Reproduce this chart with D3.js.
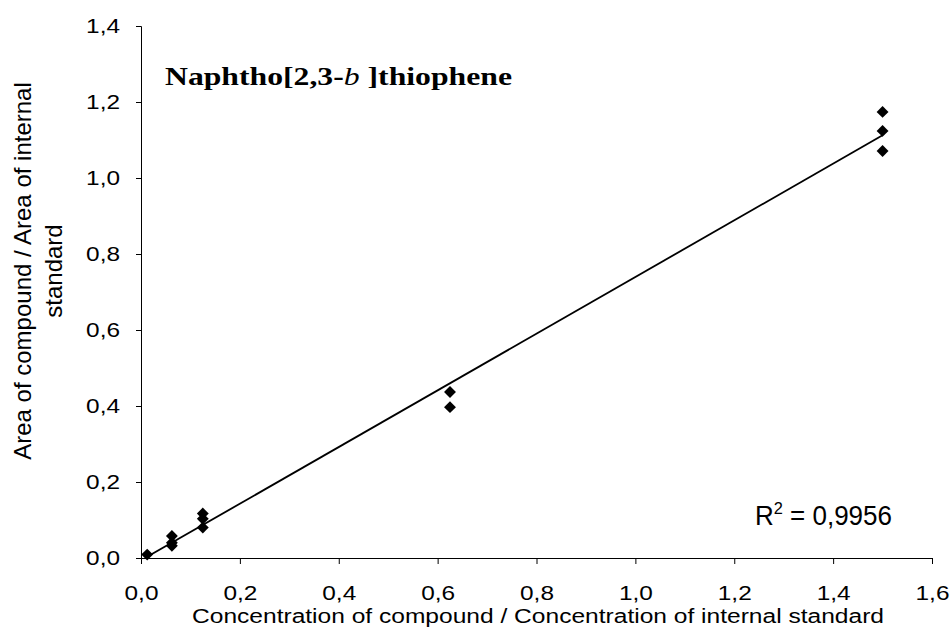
<!DOCTYPE html>
<html>
<head>
<meta charset="utf-8">
<title>Naphtho[2,3-b]thiophene calibration</title>
<style>
body { margin: 0; background: #fff; }
.axis text { font-family: "Liberation Sans", Arial, sans-serif; font-size: 20px; fill: #000; }
.axis path, .axis line { stroke: #000; stroke-width: 1px; }
</style>
</head>
<body>
<script src="https://d3js.org/d3.v7.min.js"></script>
<script>

// Data
var concRatio = [0.0125, 0.0625, 0.0625, 0.0625, 0.125, 0.125, 0.125, 0.625, 0.625, 1.5, 1.5, 1.5];
var areaRatio = [0.009, 0.058, 0.040, 0.032, 0.117, 0.103, 0.080, 0.437, 0.397, 1.174, 1.124, 1.071];
var xTicks = [0, 0.2, 0.4, 0.6, 0.8, 1.0, 1.2, 1.4, 1.6];
var yTicks = [0, 0.2, 0.4, 0.6, 0.8, 1.0, 1.2, 1.4];
var rSquared = "0,9956";

var width = 951, height = 630;
var fmt = function(v) { return d3.format(".1f")(v).replace(".", ","); };

// the original text is drawn wider than the font, stretch it
function stretch(sel, factor) {
    sel.each(function() {
        var w = this.getComputedTextLength();
        d3.select(this).attr("textLength", w * factor).attr("lengthAdjust", "spacingAndGlyphs");
    });
}

var x = d3.scaleLinear().domain([0, 1.6]).range([141, 932]);
var y = d3.scaleLinear().domain([0, 1.4]).range([558, 26]);

var svg = d3.select("body").append("svg")
    .attr("width", width)
    .attr("height", height);

var xAxis = svg.append("g")
    .attr("class", "axis axis--x")
    .attr("transform", "translate(0," + y(0) + ")")
    .call(d3.axisBottom(x).tickValues(xTicks).tickFormat(fmt).tickSizeOuter(0).tickSize(6).tickPadding(22));

var yAxis = svg.append("g")
    .attr("class", "axis axis--y")
    .attr("transform", "translate(" + x(0) + ",0)")
    .call(d3.axisLeft(y).tickValues(yTicks).tickFormat(fmt).tickSizeOuter(0).tickSize(5).tickPadding(16));

stretch(xAxis.selectAll("text"), 1.22);
stretch(yAxis.selectAll("text"), 1.22);

// least squares trend line
var n = concRatio.length;
var mx = d3.mean(concRatio), my = d3.mean(areaRatio);
var sxy = 0, sxx = 0;
for (var i = 0; i < n; i++) {
    sxy += (concRatio[i] - mx) * (areaRatio[i] - my);
    sxx += (concRatio[i] - mx) * (concRatio[i] - mx);
}
var slope = sxy / sxx, intercept = my - slope * mx;
var xmin = d3.min(concRatio), xmax = d3.max(concRatio);

svg.append("line")
    .attr("x1", x(xmin)).attr("y1", y(intercept + slope * xmin))
    .attr("x2", x(xmax)).attr("y2", y(intercept + slope * xmax))
    .attr("stroke", "#000")
    .attr("stroke-width", 1.8);

svg.selectAll(".pt")
    .data(concRatio)
    .enter().append("path")
    .attr("class", "pt")
    .attr("d", d3.symbol().type(d3.symbolDiamond2).size(90))
    .attr("transform", function(d, i) { return "translate(" + x(d) + "," + y(areaRatio[i]) + ")"; })
    .attr("fill", "#000");

// title
var title = svg.append("text")
    .attr("x", 165)
    .attr("y", 85)
    .attr("font-family", "'Liberation Serif', 'Times New Roman', serif")
    .attr("font-size", 25.5)
    .attr("font-weight", "bold")
    .attr("fill", "#000");
title.append("tspan").text("Naphtho[2,3-");
title.append("tspan").attr("font-style", "italic").attr("font-weight", "normal").text("b");
title.append("tspan").text(" ]thiophene");
title.attr("textLength", 347).attr("lengthAdjust", "spacingAndGlyphs");

// R squared
var r2 = svg.append("text")
    .attr("x", 755)
    .attr("y", 525)
    .attr("font-family", "'Liberation Sans', Arial, sans-serif")
    .attr("font-size", 27)
    .attr("fill", "#000");
r2.append("tspan").text("R");
r2.append("tspan").attr("font-size", 17).attr("dy", -11).text("2");
r2.append("tspan").attr("dy", 11).text(" = " + rSquared);
r2.attr("textLength", 137).attr("lengthAdjust", "spacingAndGlyphs");

// axis titles
svg.append("text")
    .attr("x", 538)
    .attr("y", 623)
    .attr("text-anchor", "middle")
    .attr("font-family", "'Liberation Sans', Arial, sans-serif")
    .attr("font-size", 19.5)
    .attr("textLength", 692)
    .attr("lengthAdjust", "spacingAndGlyphs")
    .text("Concentration of compound / Concentration of internal standard");

var yl = svg.append("text")
    .attr("transform", "translate(31,271) rotate(-90)")
    .attr("text-anchor", "middle")
    .attr("font-family", "'Liberation Sans', Arial, sans-serif")
    .attr("font-size", 24);
yl.append("tspan").attr("x", 0).attr("dy", 0).text("Area of compound / Area of internal");
yl.append("tspan").attr("x", 0).attr("dy", 31).text("standard");

</script>
</body>
</html>
